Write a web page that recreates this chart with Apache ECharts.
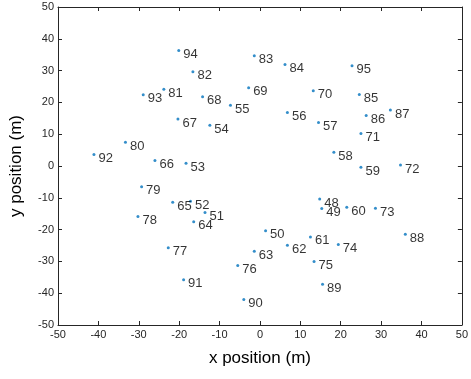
<!DOCTYPE html>
<html><head><meta charset="utf-8">
<script src="https://cdn.jsdelivr.net/npm/echarts@6/dist/echarts.min.js"></script>
<style>html,body{margin:0;padding:0;background:#fff}#c{width:471px;height:379px}</style>
</head><body><div id="c"></div>
<script>
var ids = [48,49,50,51,52,53,54,55,56,57,58,59,60,61,62,63,64,65,66,67,68,69,70,71,72,73,74,75,76,77,78,79,80,81,82,83,84,85,86,87,88,89,90,91,92,93,94,95];
var xs = [14.8,15.3,1.4,-13.6,-17.2,-18.3,-12.4,-7.3,6.8,14.5,18.3,25.0,21.5,12.5,6.8,-1.4,-16.4,-21.6,-26.0,-20.3,-14.2,-2.8,13.2,25.0,34.8,28.6,19.4,13.4,-5.5,-22.7,-30.2,-29.3,-33.3,-23.8,-16.6,-1.4,6.2,24.6,26.3,32.3,36.0,15.5,-4.0,-18.9,-41.1,-28.9,-20.1,22.8];
var ys = [-10.4,-13.4,-20.4,-14.6,-11.1,0.9,12.8,19.1,16.8,13.7,4.3,-0.4,-13.0,-22.3,-24.9,-26.8,-17.5,-11.4,1.7,14.8,21.8,24.6,23.7,10.2,0.3,-13.3,-24.7,-30.0,-31.3,-25.7,-15.9,-6.5,7.5,24.1,29.6,34.7,31.9,22.5,15.9,17.6,-21.5,-37.2,-42.0,-35.8,3.6,22.4,36.3,31.5];
var xTicks = [-50,-40,-30,-20,-10,0,10,20,30,40,50];
var yTicks = [-50,-40,-30,-20,-10,0,10,20,30,40,50];

var data = ids.map(function(id,i){ return [xs[i], ys[i], String(id)]; });
var font = '"Liberation Sans", Arial, Helvetica, sans-serif';
var axColor = '#262626';
function mkAxis(type, pos, showLabel, ticks, name, nameGap){
  return {
    type:'value', position:pos, min:ticks[0], max:ticks[ticks.length-1], interval:10,
    name: name || '', nameLocation:'middle', nameGap: nameGap || 0,
    nameTextStyle:{fontFamily:font, fontSize:17, color:'#000'},
    axisLine:{show:true, onZero:false, lineStyle:{color:axColor, width:1}},
    axisTick:{show:true, inside:true, length:4, lineStyle:{color:axColor}},
    axisLabel:{show:showLabel, fontFamily:font, fontSize:11, color:axColor, margin:4},
    splitLine:{show:false}
  };
}
var chart = echarts.init(document.getElementById('c'), null, {renderer:'canvas'});
chart.setOption({
  animation:false,
  backgroundColor:'#fff',
  grid:{left:54, right:6, top:7, bottom:54},
  xAxis:[mkAxis('x','bottom',true,xTicks,'x position (m)',25), mkAxis('x','top',false,xTicks)],
  yAxis:[mkAxis('y','left',true,yTicks,'y position (m)',33), mkAxis('y','right',false,yTicks)],
  series:[{
    type:'scatter', xAxisIndex:0, yAxisIndex:0,
    data:data, symbol:'circle', symbolSize:3,
    itemStyle:{color:'#0072BD'},
    label:{show:true, position:'right', distance:3, offset:[0,4],
      formatter:function(p){return p.data[2];},
      fontFamily:font, fontSize:13, color:'#000'}
  }]
});
</script></body></html>
